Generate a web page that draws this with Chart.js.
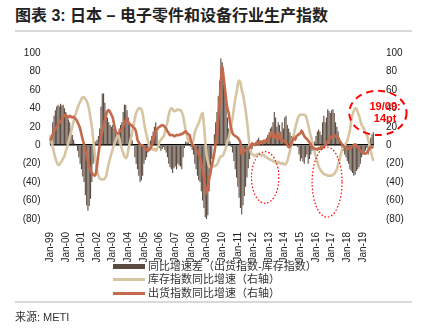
<!DOCTYPE html>
<html>
<head>
<meta charset="utf-8">
<script src="https://cdn.jsdelivr.net/npm/chart.js@4.4.1/dist/chart.umd.min.js"></script>
<style>
  body { margin: 0; background: #fff; font-family: "Liberation Sans", "Noto Sans CJK SC", sans-serif; }
  #page { position: relative; width: 423px; height: 332px; overflow: hidden; }
  #title { position: absolute; left: 15px; top: 2px; font-size: 16px; font-weight: bold; color: #222; white-space: nowrap; }
  .rule { position: absolute; left: 15px; width: 397px; height: 2px; background: #d9d9d9; }
  #box { position: absolute; left: 0; top: 35px; width: 423px; height: 227px; }
  #legend { position: absolute; left: 113px; top: 260px; font-size: 11px; color: #333; }
  .row { height: 13.3px; line-height: 13.3px; white-space: nowrap; position: relative; padding-left: 35px; }
  .sw { position: absolute; left: 0; width: 32px; }
  #source { position: absolute; left: 15px; top: 308px; font-size: 11px; color: #333; }
</style>
</head>
<body>
<div id="page">
  <div id="title">图表 3: 日本 – 电子零件和设备行业生产指数</div>
  <div class="rule" style="top:30px"></div>
  <div id="box"><canvas id="chart"></canvas></div>
  <div id="legend"></div>
  <div class="rule" style="top:301px"></div>
  <div id="source">来源: METI</div>
</div>
<script>
// monthly, Jan-99 .. Sep-19
const years = ['99','00','01','02','03','04','05','06','07','08','09','10','11','12','13','14','15','16','17','18','19'];
const monthNames = ['Jan','Feb','Mar','Apr','May','Jun','Jul','Aug','Sep','Oct','Nov','Dec'];

// 同比增速差（出货指数-库存指数）, left axis
const spread = [
  6, 10, 25, 32, 38, 42, 44, 42, 45, 43, 44, 40,
  36, 32, 28, 25, 18, 11, 6, 2, 0, -6, -13, -20,
  -26, -34, -40, -54, -65, -71, -66, -58, -40, -20, -3, 4,
  6, 10, 18, 42, 56, 56, 46, 36, 30, 25, 22, 20,
  22, 18, 15, 11, 14, 18, 22, 25, 36, 44, 44, 38,
  30, 22, 12, 5, 0, -13, -20, -26, -33, -40, -38, -33,
  -20, -16, -13, -8, -3, 5, 10, 15, 20, 25, 15, 0,
  -3, -6, -4, -2, -5, -8, -13, -20, -24, -26, -30, -25,
  -23, -26, -20, -22, -23, -26, -13, -3, 4, 3, 4, 0,
  -2, -5, -10, -20, -26, -33, -38, -40, -50, -60, -68, -78,
  -80, -76, -50, -26, -15, 0, 12, 25, 36, 53, 70, 94,
  90, 83, 62, 45, 30, 18, 4, -2, -8, -17, -26, -35,
  -45, -57, -68, -75, -65, -55, -45, -35, -25, -15, -8, -4,
  0, 2, 4, 6, 8, 5, 0, 3, 4, 6, 8, 11,
  14, 18, 20, 25, 36, 30, 20, 25, 22, 15, 25, 18,
  30, 32, 22, 18, 14, 10, 5, 2, 0, 0, -2, -10,
  -17, -14, -18, -20, -13, -10, -20, -15, -10, -6, -3, 4,
  10, 15, 17, 15, 11, 25, 32, 25, 30, 39, 37, 35,
  38, 39, 35, 25, 20, 15, 8, 0, -3, -6, -10, -13,
  -17, -20, -26, -28, -30, -33, -32, -28, -26, -24, -20, -13,
  -10, -8, -6, -3, -10, 0, 8, 12, 14
];

// 库存指数同比增速（右轴）
const inventory = [
  11, 5, -2, -8, -14, -18, -21, -21, -19, -17, -14, -12,
  -6, -2, 3, 9, 14, 20, 26, 31, 36, 40, 44, 47,
  50, 52, 52, 50, 48, 44, 38, 29, 20, 8, -6, -18,
  -28, -33, -36, -37, -37, -37, -36, -33, -26, -20, -14, -9,
  -4, 0, 4, 8, 11, 8, 1, -4, -8, -12, -14, -12,
  -5, 2, 8, 14, 22, 29, 35, 38, 40, 40, 39, 34,
  25, 17, 11, 5, 0, -2, -4, -5, -4, -6, -4, -1,
  4, 6, 8, 9, 14, 20, 25, 33, 38, 40, 39, 37,
  37, 38, 39, 38, 38, 36, 32, 24, 16, 10, 5, 4,
  4, 3, 6, 14, 18, 21, 24, 28, 33, 35, 22, 5,
  -10, -18, -23, -24, -23, -22, -23, -22, -21, -18, -14, -12,
  -12, -10, -6, -2, 4, 8, 14, 22, 30, 40, 50, 57,
  66, 70, 68, 60, 55, 46, 38, 26, 14, -2, -8, -10,
  -10, -12, -11, -10, -9, -10, -11, -10, -11, -12, -13, -14,
  -15, -16, -16, -17, -18, -19, -19, -18, -19, -20, -19, -20,
  -21, -20, -17, -12, -6, 0, 6, 12, 18, 24, 29, 32,
  33, 33, 33, 33, 32, 28, 22, 16, 10, 4, -2, -8,
  -13, -18, -23, -26, -28, -30, -31, -32, -32, -33, -33, -33,
  -33, -32, -31, -29, -26, -21, -16, -10, -5, -2, 0, 2,
  5, 10, 16, 26, 33, 37, 40, 40, 36, 32, 27, 22,
  20, 17, 13, 11, 6, 0, -6, -12, -17
];

// 出货指数同比增速（右轴）
const shipments = [
  5, 8, 12, 15, 18, 20, 22, 24, 26, 28, 30, 32,
  33, 31, 30, 32, 31, 30, 31, 29, 28, 25, 22, 18,
  12, 6, 1, -6, -12, -18, -23, -27, -30, -32, -33, -31,
  -22, -10, 0, 8, 15, 21, 27, 33, 37, 38, 36, 33,
  30, 23, 17, 13, 13, 14, 16, 17, 20, 24, 27, 29,
  25, 23, 22, 21, 19, 18, 14, 6, 3, 1, 0, 0,
  -2, -4, -5, -6, -5, -3, 0, 5, 12, 15, 17, 19,
  20, 21, 22, 21, 20, 18, 15, 13, 11, 11, 11, 10,
  10, 11, 11, 11, 12, 12, 13, 14, 15, 13, 12, 11,
  5, 1, 0, -2, -5, -7, -10, -13, -20, -26, -35, -45,
  -52, -48, -37, -30, -22, -16, -8, 2, 11, 30, 46, 70,
  85, 75, 63, 50, 40, 35, 25, 18, 13, 11, 10, 9,
  8, 6, 3, -10, -8, -6, -5, -4, -4, -3, 0, 2,
  1, 0, 2, 3, 1, 3, 4, 2, 5, 4, 6, 4,
  8, 11, 14, 9, 12, 8, 10, 7, 13, 6, 4, 5,
  5, 3, 0, -2, -1, 2, 5, 8, 6, 10, 11, 12,
  13, 16, 13, 10, 8, 7, 5, 3, 1, -2, -3, -4,
  -4, -5, -3, -4, -2, -3, -1, 0, 2, 4, 6, 8,
  9, 10, 11, 9, 10, 7, 5, 3, 1, -1, -2, -3,
  -3, -4, -4, -2, -1, 0, 1, 0, -2, -4, -6, -7,
  -8, -9, -9, -8, -6, -4, -2, -2, -3
];

const labels = [];
years.forEach(y => monthNames.forEach(m => labels.push(m + '-' + y)));
labels.length = spread.length;

// red circles drawn in the source, placed in data units (month index, value)
const notes = [
  { type: 'ellipse', x: 165, y: -35, rx: 10.5, ry: 28, dash: [1.5, 2], width: 1.2 },
  { type: 'ellipse', x: 212.5, y: -40, rx: 11.5, ry: 38, dash: [1.5, 2], width: 1.2 },
  { type: 'ellipse', x: 251.5, y: 35, rx: 22, ry: 24, dash: [7, 5], width: 2 },
  { type: 'text', x: 257, y: 41, text: '19/09:' },
  { type: 'text', x: 257, y: 28, text: '14pt' }
];

const notePlugin = {
  id: 'notes',
  afterDraw(chart) {
    const ctx = chart.ctx, xs = chart.scales.x, ys = chart.scales.y1;
    const step = xs.getPixelForValue(1) - xs.getPixelForValue(0);
    const unit = ys.getPixelForValue(0) - ys.getPixelForValue(1);
    ctx.save();
    notes.forEach(n => {
      const px = xs.getPixelForValue(0) + n.x * step;
      const py = ys.getPixelForValue(n.y);
      if (n.type === 'ellipse') {
        ctx.beginPath();
        ctx.setLineDash(n.dash);
        ctx.lineWidth = n.width;
        ctx.strokeStyle = '#ff0000';
        ctx.ellipse(px, py, n.rx * step, n.ry * unit, 0, 0, Math.PI * 2);
        ctx.stroke();
      } else {
        ctx.setLineDash([]);
        ctx.fillStyle = '#ff0000';
        ctx.font = 'bold 11px "Liberation Sans", Arial';
        ctx.textAlign = 'center';
        ctx.textBaseline = 'middle';
        ctx.fillText(n.text, px, py);
      }
    });
    ctx.restore();
  }
};

const fmt = v => v < 0 ? '(' + (-v) + ')' : String(v);
const tickFont = { family: '"Liberation Sans", Arial', size: 10 };

const chart = new Chart(document.getElementById('chart'), {
  type: 'bar',
  data: {
    labels,
    datasets: [
      { type: 'line', label: '出货指数同比增速（右轴）', data: shipments, yAxisID: 'y1',
        borderColor: '#c4694b', borderWidth: 2.6, pointRadius: 0, tension: 0.2, order: 1 },
      { type: 'line', label: '库存指数同比增速（右轴）', data: inventory, yAxisID: 'y1',
        borderColor: '#d7c4a1', borderWidth: 2.6, pointRadius: 0, tension: 0.2, order: 2 },
      { label: '同比增速差（出货指数-库存指数）', data: spread, yAxisID: 'y',
        backgroundColor: '#5b4b40', barPercentage: 0.85, categoryPercentage: 1, order: 3 }
    ]
  },
  options: {
    responsive: true,
    maintainAspectRatio: false,
    animation: false,
    layout: { padding: { top: 9, left: 0, right: 0, bottom: 0 } },
    plugins: { legend: { display: false }, tooltip: { enabled: false } },
    scales: {
      x: {
        grid: { display: false },
        border: { display: false },
        ticks: {
          autoSkip: false, maxRotation: 90, minRotation: 90, padding: 5,
          color: '#222', font: tickFont,
          callback: (v, i) => i % 12 === 0 ? labels[i] : ''
        },
        afterFit: s => { s.height = 43; }
      },
      y: {
        position: 'left', min: -80, max: 100,
        border: { display: false },
        grid: { drawTicks: false, lineWidth: 1.5,
          color: c => c.tick.value === 0 ? '#000' : 'rgba(0,0,0,0)' },
        ticks: { stepSize: 20, padding: 9, color: '#222', font: tickFont, callback: fmt },
        afterFit: s => { s.width = 49.5; }
      },
      y1: {
        position: 'right', min: -80, max: 100,
        border: { display: false },
        grid: { display: false, drawTicks: false },
        ticks: { stepSize: 20, padding: 12, color: '#222', font: tickFont, callback: fmt },
        afterFit: s => { s.width = 49; }
      }
    }
  },
  plugins: [notePlugin]
});

// legend in source order: bars, inventory, shipments
const legend = document.getElementById('legend');
[2, 1, 0].forEach(i => {
  const ds = chart.data.datasets[i];
  const row = document.createElement('div');
  row.className = 'row';
  const sw = document.createElement('span');
  sw.className = 'sw';
  const isBar = !ds.type;
  sw.style.height = isBar ? '5px' : '3px';
  sw.style.top = isBar ? '4px' : '5px';
  sw.style.background = isBar ? ds.backgroundColor : ds.borderColor;
  row.appendChild(sw);
  row.appendChild(document.createTextNode(ds.label));
  legend.appendChild(row);
});
</script>
</body>
</html>
